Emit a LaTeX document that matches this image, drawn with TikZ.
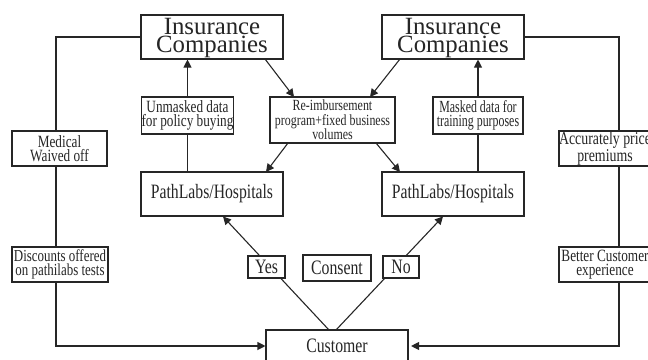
\documentclass[tikz,border=0pt]{standalone}
\usepackage{fontspec}
\setmainfont{Liberation Serif}
\newfontfamily\condfont[FakeStretch=0.77]{Liberation Serif}
\newfontfamily\narrowfont[FakeStretch=0.7]{Liberation Serif}
\usetikzlibrary{arrows.meta,backgrounds}
\definecolor{ink}{HTML}{262626}
\tikzset{
  x=1pt,y=-1pt,
  boxbase/.style={draw=ink,fill=white,line width=1.1pt,inner sep=0pt,align=center,text=ink},
  bigbox/.style={boxbase,minimum width=142pt,minimum height=44pt,font=\fontsize{24.8}{18.5}\selectfont},
  midbox/.style={boxbase,minimum width=142pt,minimum height=44pt,font=\condfont\fontsize{20.4}{20}\selectfont},
  lab/.style={boxbase,font=\condfont\fontsize{17.2}{13.5}\selectfont},
  bare/.style={boxbase,font=\condfont\fontsize{20.5}{20}\selectfont},
  conn/.style={draw=ink,line width=1.1pt},
  arr/.style={conn,-{Triangle[length=8pt,width=8pt]}}
}
\begin{document}
\begin{tikzpicture}
\useasboundingbox (0,0) rectangle (648,359);
\clip (0,0) rectangle (648,359);
\node[bigbox] (icl) at (212,37) {\rule{0pt}{18pt}Insurance\\Companies};
\node[bigbox] (icr) at (453,37) {\rule{0pt}{18pt}Insurance\\Companies};
\node[midbox] (pll) at (212,194) {PathLabs/Hospitals};
\node[midbox] (plr) at (453,194) {PathLabs/Hospitals};
\node[lab,minimum width=89pt,minimum height=37pt] (unm) at (187.5,115.5) {Unmasked data\\for policy buying};
\node[lab,minimum width=90pt,minimum height=37pt,font=\narrowfont\fontsize{17}{13.5}\selectfont] (mas) at (478,115.5) {Masked data for\\training purposes};
\node[lab,minimum width=125pt,minimum height=46pt,font=\condfont\fontsize{15.5}{14.5}\selectfont] (rei) at (332.5,120) {Re-imbursement\\program+fixed business\\volumes};
\node[lab,minimum width=95pt,minimum height=35pt] (med) at (59.5,148.5) {Medical\\Waived off};
\node[lab,minimum width=96pt,minimum height=35pt,font=\condfont\fontsize{16.8}{13.5}\selectfont] (dis) at (60,264.5) {Discounts offered\\on pathilabs tests};
\node[lab,minimum width=92pt,minimum height=35pt,font=\condfont\fontsize{18}{13.5}\selectfont] (acc) at (605,148.5) {Accurately price\\premiums};
\node[lab,minimum width=92pt,minimum height=35pt] (bet) at (605,264.5) {Better Customer\\experience};
\node[bare,minimum width=37pt,minimum height=22pt] (yes) at (266.5,267) {Yes};
\node[bare,minimum width=68pt,minimum height=26pt] (con) at (337,268) {Consent};
\node[bare,minimum width=36pt,minimum height=22pt] (no) at (401,267) {No};
\node[bare,minimum width=142pt,minimum height=32pt] (cus) at (337,346) {Customer};
\coordinate (lb) at (56,346);
\coordinate (rb) at (619,346);
\coordinate (ycu) at (329,330);
\coordinate (ncu) at (336,330);
\coordinate (ypl) at (223,216.5);
\coordinate (npl) at (443,216.5);
\coordinate (ilo) at (265,59);
\coordinate (iro) at (400,59);
\coordinate (rit) at (294,97);
\coordinate (rir) at (370,97);
\coordinate (rbl) at (288,143);
\coordinate (rbr) at (376,143);
\coordinate (plt) at (266,172);
\coordinate (prt) at (400,172);
\begin{scope}[on background layer]
\draw[arr] (icl.west) -| (lb) -- (cus.west);
\draw[arr,shorten >=2.5pt] (icr.east) -| (rb) -- (cus.east);
\draw[arr] (ycu) -- (ypl);
\draw[arr] (ncu) -- (npl);
\end{scope}
\draw[conn] (pll.north -| unm.north) -- (unm.south);
\draw[arr] (unm.north) -- (icl.south -| unm.north);
\draw[conn] (plr.north -| mas.north) -- (mas.south);
\draw[arr] (mas.north) -- (icr.south -| mas.north);
\draw[arr] (ilo) -- (rit);
\draw[arr] (iro) -- (rir);
\draw[arr] (rbl) -- (plt);
\draw[arr] (rbr) -- (prt);
\end{tikzpicture}
\end{document}
